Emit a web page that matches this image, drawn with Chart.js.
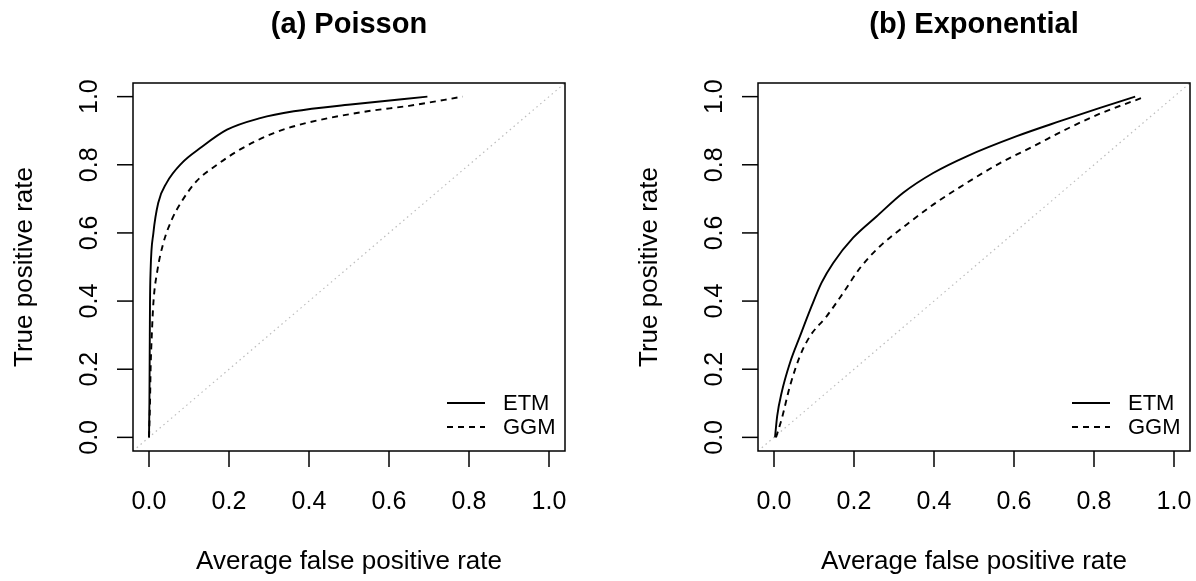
<!DOCTYPE html>
<html>
<head>
<meta charset="utf-8">
<script src="https://cdn.jsdelivr.net/npm/chart.js@4.4.1/dist/chart.umd.min.js"></script>
<style>
    html, body { margin: 0; padding: 0; background: #fff; }
    .painel { position: absolute; top: 0; width: 598px; height: 581px; }
</style>
</head>
<body>
<div class="painel" style="left:0"><canvas id="graficoPoisson" width="598" height="581"></canvas></div>
<div class="painel" style="left:598px"><canvas id="graficoExponencial" width="598" height="581"></canvas></div>

<script>
const tickValues = [0, 0.2, 0.4, 0.6, 0.8, 1.0];
const tickLabels = ["0.0", "0.2", "0.4", "0.6", "0.8", "1.0"];
const seriesNames = ["ETM", "GGM"];
const panelTitles = ["(a) Poisson", "(b) Exponential"];
const xTitle = "Average false positive rate";
const yTitle = "True positive rate";

// (a) Poisson
const poissonEtmFpr = [0, 0.001, 0.002, 0.0025, 0.004, 0.011, 0.023, 0.044, 0.082, 0.128, 0.195, 0.278, 0.362, 0.504, 0.696];
const poissonEtmTpr = [0, 0.10, 0.297, 0.395, 0.49, 0.60, 0.688, 0.747, 0.805, 0.849, 0.903, 0.937, 0.957, 0.977, 1.0];
const poissonGgmFpr = [0, 0.0025, 0.004, 0.007, 0.011, 0.021, 0.036, 0.057, 0.082, 0.119, 0.170, 0.228, 0.312, 0.395, 0.546, 0.650, 0.784];
const poissonGgmTpr = [0, 0.10, 0.20, 0.30, 0.395, 0.49, 0.571, 0.639, 0.693, 0.752, 0.80, 0.845, 0.893, 0.923, 0.957, 0.973, 1.0];

// (b) Exponential
const expEtmFpr = [0.0025, 0.008, 0.019, 0.04, 0.065, 0.094, 0.119, 0.148, 0.198, 0.257, 0.323, 0.398, 0.482, 0.607, 0.715, 0.815, 0.903];
const expEtmTpr = [0, 0.063, 0.131, 0.219, 0.297, 0.385, 0.454, 0.512, 0.586, 0.649, 0.718, 0.776, 0.825, 0.884, 0.928, 0.967, 1.0];
const expGgmFpr = [0.005, 0.019, 0.04, 0.065, 0.09, 0.132, 0.173, 0.215, 0.265, 0.332, 0.398, 0.482, 0.565, 0.648, 0.732, 0.815, 0.928];
const expGgmTpr = [0, 0.053, 0.151, 0.239, 0.297, 0.356, 0.424, 0.497, 0.561, 0.625, 0.683, 0.747, 0.805, 0.854, 0.905, 0.950, 1.0];

const fonte = "\"Liberation Sans\", Arial, Helvetica, sans-serif";

function pontos(xs, ys) {
    return xs.map((x, i) => ({ x: x, y: ys[i] }));
}

// eixos, caixa, titulos e legenda no estilo do R
const eixosR = {
    id: "eixosR",
    afterDraw(chart) {
        const ctx = chart.ctx;
        const area = chart.chartArea;
        const sx = chart.scales.x;
        const sy = chart.scales.y;
        const tick = 16;

        ctx.save();
        ctx.strokeStyle = "#000";
        ctx.fillStyle = "#000";
        ctx.lineWidth = 1.5;
        ctx.strokeRect(area.left, area.top, area.right - area.left, area.bottom - area.top);

        ctx.font = "25px " + fonte;
        ctx.textAlign = "center";
        ctx.textBaseline = "alphabetic";
        tickValues.forEach((v, i) => {
            const px = sx.getPixelForValue(v);
            ctx.beginPath();
            ctx.moveTo(px, area.bottom);
            ctx.lineTo(px, area.bottom + tick);
            ctx.stroke();
            ctx.fillText(tickLabels[i], px, area.bottom + 58);

            const py = sy.getPixelForValue(v);
            ctx.beginPath();
            ctx.moveTo(area.left - tick, py);
            ctx.lineTo(area.left, py);
            ctx.stroke();
            ctx.save();
            ctx.translate(area.left - 36, py);
            ctx.rotate(-Math.PI / 2);
            ctx.fillText(tickLabels[i], 0, 0);
            ctx.restore();
        });

        const meioX = (area.left + area.right) / 2;
        const meioY = (area.top + area.bottom) / 2;
        ctx.font = "26px " + fonte;
        ctx.fillText(xTitle, meioX, 569);
        ctx.save();
        ctx.translate(area.left - 101, meioY);
        ctx.rotate(-Math.PI / 2);
        ctx.fillText(yTitle, 0, 0);
        ctx.restore();

        ctx.font = "bold 29px " + fonte;
        ctx.fillText(chart.options.plugins.tituloPainel.text, meioX, 33);

        // legenda (bottomright, sem caixa)
        ctx.font = "22px " + fonte;
        ctx.textAlign = "left";
        ctx.textBaseline = "middle";
        const linhas = [area.bottom - 48, area.bottom - 24];
        seriesNames.forEach((nome, i) => {
            const ds = chart.data.datasets[i];
            ctx.save();
            ctx.lineWidth = ds.borderWidth;
            ctx.setLineDash(ds.borderDash || []);
            ctx.beginPath();
            ctx.moveTo(area.right - 118, linhas[i]);
            ctx.lineTo(area.right - 80, linhas[i]);
            ctx.stroke();
            ctx.restore();
            ctx.fillText(nome, area.right - 62, linhas[i] + 1);
        });
        ctx.restore();
    }
};

function montarGrafico(idCanvas, titulo, etm, ggm, padding) {
    const ctx = document.getElementById(idCanvas).getContext("2d");
    new Chart(ctx, {
        type: "line",
        data: {
            datasets: [{
                label: seriesNames[0],
                data: etm,
                borderColor: "#000",
                borderWidth: 1.9,
                pointRadius: 0,
                cubicInterpolationMode: "monotone"
            }, {
                label: seriesNames[1],
                data: ggm,
                borderColor: "#000",
                borderWidth: 1.9,
                borderDash: [6, 5],
                pointRadius: 0,
                cubicInterpolationMode: "monotone"
            }, {
                label: "diagonal",
                data: [{ x: -0.04, y: -0.04 }, { x: 1.04, y: 1.04 }],
                borderColor: "#bdbdbd",
                borderWidth: 1.2,
                borderDash: [1.5, 3.5],
                pointRadius: 0
            }]
        },
        options: {
            responsive: false,
            animation: false,
            devicePixelRatio: 1,
            events: [],
            layout: { padding: padding },
            plugins: {
                legend: { display: false },
                tooltip: { enabled: false },
                tituloPainel: { text: titulo }
            },
            scales: {
                x: { type: "linear", min: -0.04, max: 1.04, display: false },
                y: { type: "linear", min: -0.04, max: 1.04, display: false }
            }
        },
        plugins: [eixosR]
    });
}

montarGrafico("graficoPoisson", panelTitles[0],
    pontos(poissonEtmFpr, poissonEtmTpr), pontos(poissonGgmFpr, poissonGgmTpr),
    { left: 133, right: 33, top: 83, bottom: 130 });

montarGrafico("graficoExponencial", panelTitles[1],
    pontos(expEtmFpr, expEtmTpr), pontos(expGgmFpr, expGgmTpr),
    { left: 160, right: 6, top: 83, bottom: 130 });
</script>
</body>
</html>
